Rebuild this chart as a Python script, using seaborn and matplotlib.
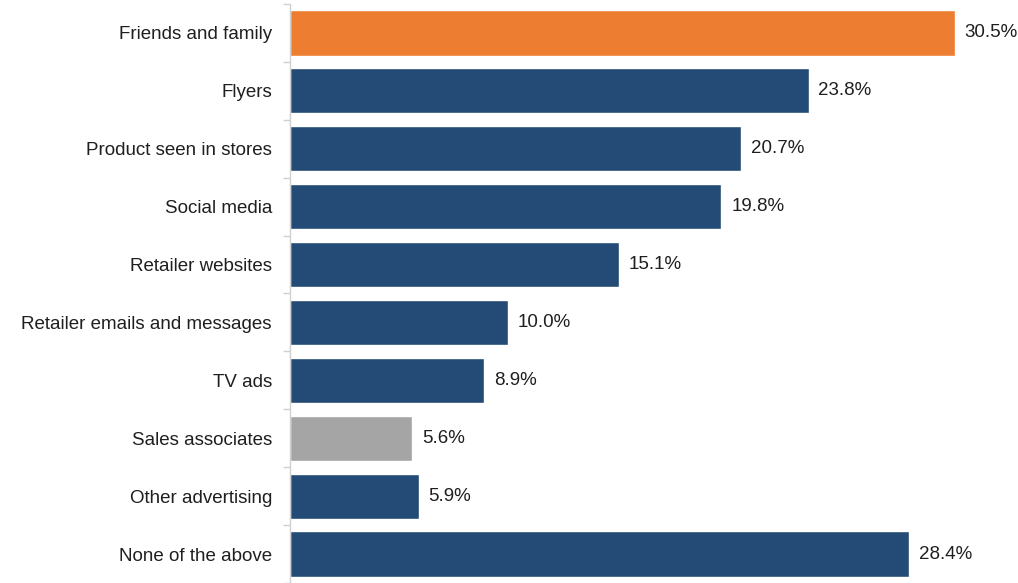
import matplotlib
matplotlib.use("Agg")
import matplotlib.pyplot as plt
import seaborn as sns
import pandas as pd
import numpy as np

sources = [
    "Friends and family",
    "Flyers",
    "Product seen in stores",
    "Social media",
    "Retailer websites",
    "Retailer emails and messages",
    "TV ads",
    "Sales associates",
    "Other advertising",
    "None of the above",
]
shares = [30.5, 23.8, 20.7, 19.8, 15.1, 10.0, 8.9, 5.6, 5.9, 28.4]

ORANGE = "#ED7D31"
NAVY = "#234B76"
GREY = "#A5A5A5"
bar_colors = [ORANGE] + [NAVY] * 6 + [GREY] + [NAVY] * 2

sns.set_theme(style="white")
plt.rcParams["font.family"] = ["Liberation Sans", "DejaVu Sans"]

df = pd.DataFrame({"source": sources, "share": shares})

fig = plt.figure(figsize=(10.18, 5.83), dpi=100)
ax = fig.add_axes([290 / 1018, 0.0, 1 - 290 / 1018 - 0.011, 1 - 4 / 583])

sns.barplot(
    data=df, x="share", y="source", hue="source", palette=bar_colors,
    order=sources, hue_order=sources, legend=False, width=0.78,
    saturation=1, ax=ax,
)

for patch, val in zip(ax.patches, shares):
    y = patch.get_y() + patch.get_height() / 2
    ax.text(val + 0.45, y, f"{val:.1f}%", va="center", ha="left",
            fontsize=13.5, color="#1F1F1F")

ax.set_xlim(0, 32.9)
ax.set_ylim(len(sources) - 0.5, -0.5)
ax.set_xlabel("")
ax.set_ylabel("")
ax.set_xticks([])

for side in ["top", "right", "bottom"]:
    ax.spines[side].set_visible(False)
ax.spines["left"].set_color("#D0D0D0")
ax.spines["left"].set_linewidth(1.0)

ax.set_yticks(np.arange(len(sources)))
ax.set_yticklabels(sources, fontsize=13.5, color="#1F1F1F")
ax.tick_params(axis="y", which="major", length=0, pad=13)
ax.set_yticks(np.arange(len(sources) + 1) - 0.5, minor=True)
ax.tick_params(axis="y", which="minor", length=5, width=1.0,
               color="#D0D0D0", direction="out", left=True)

fig.savefig("out.png", dpi=100)
